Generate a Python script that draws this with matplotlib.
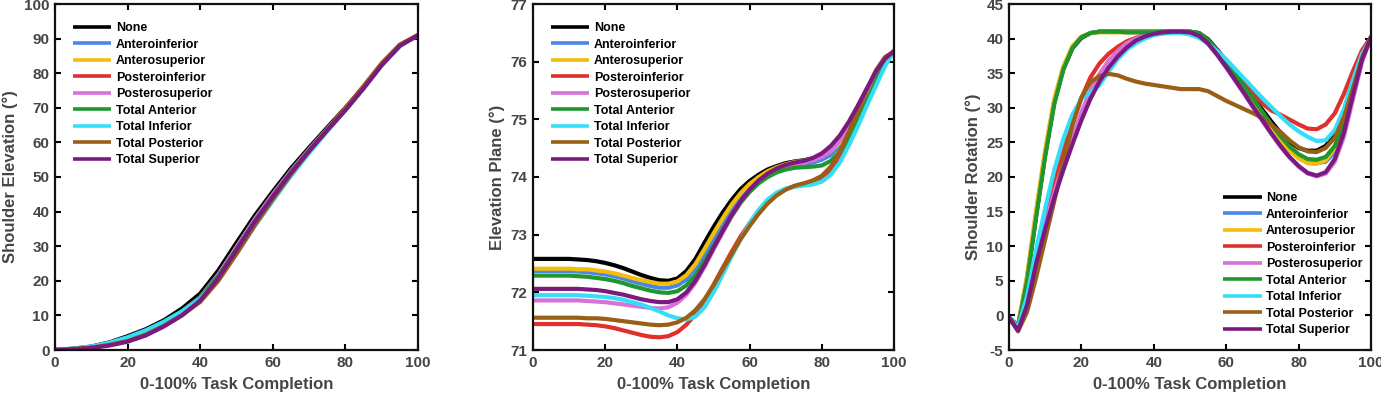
import matplotlib
matplotlib.use("Agg")
import matplotlib.pyplot as plt
import numpy as np

plt.rcParams['font.family'] = ['Liberation Sans', 'DejaVu Sans']
plt.rcParams['font.weight'] = 'bold'
plt.rcParams['axes.unicode_minus'] = False

series_names = ["None", "Anteroinferior", "Anterosuperior", "Posteroinferior",
                "Posterosuperior", "Total Anterior", "Total Inferior",
                "Total Posterior", "Total Superior"]
series_colors = ["#000000", "#4a86e8", "#f4bd0b", "#e0302c", "#d672d8",
                 "#1f962f", "#35def7", "#9a5f16", "#7b1a7e"]

# ---- Panel 1: Shoulder Elevation (x every 5 %) ----
x_elev = list(range(0, 101, 5))
elev_none = [0, 0.4, 1.0, 2.2, 4.0, 6.0, 8.6, 12.0, 16.3, 23.0, 31.0, 38.8, 45.8, 52.5, 58.5, 64.3, 70.0, 76.0, 82.5, 88.0, 91.0]
elev_antinf = [0, 0.3, 0.9, 1.9, 3.4, 5.4, 8.0, 11.2, 15.3, 21.8, 29.6, 37.5, 44.6, 51.5, 57.8, 63.8, 69.6, 75.8, 82.5, 88.0, 91.0]
elev_antsup = [0, 0.3, 0.8, 1.8, 3.2, 5.2, 7.8, 11.0, 15.0, 21.3, 29.0, 37.0, 44.2, 51.2, 57.6, 63.6, 69.6, 75.9, 82.6, 88.1, 91.0]
elev_postinf = [0, 0.3, 0.7, 1.5, 2.7, 4.6, 7.2, 10.4, 14.3, 20.4, 28.0, 36.0, 43.4, 50.6, 57.2, 63.4, 69.4, 75.7, 82.4, 88.0, 91.0]
elev_postsup = [0, 0.3, 0.8, 1.7, 3.0, 5.0, 7.7, 11.0, 15.2, 21.8, 29.8, 37.8, 45.0, 51.8, 58.0, 63.9, 69.7, 75.8, 82.4, 88.0, 91.0]
elev_totant = [0, 0.3, 0.8, 1.8, 3.2, 5.2, 7.8, 11.1, 15.1, 21.4, 29.2, 37.2, 44.4, 51.4, 57.7, 63.7, 69.6, 75.8, 82.5, 88.0, 91.0]
elev_totinf = [0, 0.4, 1.0, 2.1, 3.7, 5.7, 8.2, 11.2, 14.8, 20.5, 27.8, 35.8, 43.1, 50.3, 56.9, 63.2, 69.3, 75.6, 82.3, 87.9, 91.0]
elev_totpost = [0, 0.3, 0.7, 1.5, 2.6, 4.4, 7.0, 10.1, 13.9, 20.0, 27.8, 36.0, 43.6, 50.8, 57.5, 63.8, 69.9, 76.3, 82.9, 88.3, 91.0]
elev_totsup = [0, 0.2, 0.6, 1.3, 2.4, 4.2, 6.8, 10.0, 14.3, 20.8, 28.9, 37.0, 44.3, 51.2, 57.5, 63.5, 69.3, 75.6, 82.3, 87.9, 91.0]

# ---- Panel 2: Elevation Plane (x every 2.5 %) ----
x_plane = [i * 2.5 for i in range(41)]
plane_none = [72.58, 72.58, 72.58, 72.58, 72.58, 72.57, 72.56, 72.54, 72.51, 72.47, 72.42, 72.36, 72.30, 72.25, 72.21, 72.20, 72.24, 72.37, 72.58, 72.86, 73.13, 73.38, 73.60, 73.79, 73.93, 74.04, 74.13, 74.19, 74.24, 74.27, 74.29, 74.32, 74.37, 74.47, 74.63, 74.86, 75.14, 75.45, 75.76, 76.02, 76.18]
plane_antinf = [72.37, 72.37, 72.37, 72.37, 72.37, 72.36, 72.35, 72.33, 72.31, 72.28, 72.24, 72.19, 72.15, 72.11, 72.08, 72.08, 72.12, 72.22, 72.40, 72.65, 72.92, 73.19, 73.44, 73.66, 73.83, 73.96, 74.06, 74.13, 74.18, 74.21, 74.23, 74.25, 74.30, 74.38, 74.53, 74.75, 75.04, 75.37, 75.70, 75.99, 76.18]
plane_antsup = [72.41, 72.41, 72.41, 72.41, 72.41, 72.40, 72.40, 72.38, 72.36, 72.33, 72.29, 72.25, 72.21, 72.18, 72.15, 72.15, 72.19, 72.30, 72.49, 72.75, 73.02, 73.28, 73.52, 73.72, 73.88, 74.00, 74.10, 74.17, 74.22, 74.26, 74.28, 74.31, 74.36, 74.45, 74.60, 74.82, 75.10, 75.42, 75.74, 76.01, 76.18]
plane_postinf = [71.45, 71.45, 71.45, 71.45, 71.45, 71.45, 71.44, 71.43, 71.41, 71.38, 71.34, 71.30, 71.26, 71.23, 71.22, 71.24, 71.31, 71.44, 71.62, 71.86, 72.13, 72.42, 72.70, 72.97, 73.20, 73.41, 73.58, 73.70, 73.79, 73.84, 73.87, 73.90, 73.96, 74.09, 74.31, 74.62, 74.98, 75.36, 75.72, 76.02, 76.18]
plane_postsup = [71.86, 71.86, 71.86, 71.86, 71.86, 71.86, 71.85, 71.84, 71.83, 71.81, 71.79, 71.77, 71.75, 71.73, 71.72, 71.74, 71.82, 71.96, 72.17, 72.44, 72.74, 73.03, 73.31, 73.55, 73.75, 73.91, 74.03, 74.12, 74.18, 74.22, 74.25, 74.29, 74.35, 74.46, 74.63, 74.87, 75.16, 75.48, 75.79, 76.04, 76.18]
plane_totant = [72.29, 72.29, 72.29, 72.29, 72.29, 72.28, 72.27, 72.25, 72.23, 72.20, 72.16, 72.11, 72.07, 72.03, 72.00, 71.99, 72.02, 72.12, 72.29, 72.53, 72.80, 73.07, 73.33, 73.56, 73.74, 73.89, 74.00, 74.08, 74.13, 74.16, 74.17, 74.18, 74.20, 74.28, 74.43, 74.66, 74.96, 75.31, 75.66, 75.97, 76.18]
plane_totinf = [71.95, 71.95, 71.95, 71.95, 71.95, 71.95, 71.94, 71.93, 71.92, 71.90, 71.87, 71.83, 71.79, 71.73, 71.67, 71.60, 71.55, 71.53, 71.58, 71.74, 72.00, 72.30, 72.62, 72.92, 73.20, 73.43, 73.61, 73.73, 73.80, 73.83, 73.85, 73.87, 73.92, 74.04, 74.25, 74.55, 74.88, 75.24, 75.58, 75.92, 76.18]
plane_totpost = [71.56, 71.56, 71.56, 71.56, 71.56, 71.56, 71.55, 71.55, 71.54, 71.52, 71.50, 71.48, 71.46, 71.44, 71.43, 71.44, 71.48, 71.56, 71.69, 71.88, 72.12, 72.39, 72.66, 72.92, 73.15, 73.36, 73.54, 73.68, 73.78, 73.85, 73.89, 73.94, 74.02, 74.18, 74.44, 74.78, 75.15, 75.52, 75.85, 76.08, 76.18]
plane_totsup = [72.06, 72.06, 72.06, 72.06, 72.06, 72.06, 72.05, 72.04, 72.02, 71.99, 71.96, 71.92, 71.88, 71.85, 71.83, 71.83, 71.88, 72.00, 72.20, 72.47, 72.77, 73.06, 73.34, 73.58, 73.78, 73.94, 74.06, 74.15, 74.21, 74.25, 74.28, 74.33, 74.41, 74.54, 74.72, 74.96, 75.24, 75.54, 75.83, 76.05, 76.18]

# ---- Panel 3: Shoulder Rotation (x every 2.5 %) ----
x_rot = [i * 2.5 for i in range(41)]
rot_none = [-0.3, -1.5, 5.2, 14.5, 23.3, 30.8, 35.6, 38.6, 40.1, 40.8, 41.0, 41.0, 41.0, 41.0, 41.0, 41.0, 41.0, 41.0, 41.0, 41.0, 41.0, 40.8, 39.9, 38.4, 36.8, 35.1, 33.3, 31.5, 29.7, 28.0, 26.4, 25.1, 24.2, 23.8, 23.8, 24.5, 26.2, 29.5, 34.0, 38.0, 40.2]
rot_antinf = [-0.3, -1.5, 5.5, 14.8, 23.6, 31.0, 35.8, 38.8, 40.2, 40.8, 41.0, 41.0, 41.0, 41.0, 41.0, 41.0, 41.0, 41.0, 41.0, 41.0, 41.0, 40.7, 39.7, 38.2, 36.5, 34.7, 32.9, 31.0, 29.1, 27.3, 25.6, 24.1, 23.0, 22.3, 22.0, 22.2, 23.6, 27.0, 32.2, 37.0, 40.2]
rot_antsup = [-0.3, -1.5, 5.8, 15.2, 24.0, 31.3, 36.0, 38.9, 40.3, 40.8, 40.9, 40.9, 40.9, 40.9, 40.9, 40.9, 40.9, 40.9, 40.9, 40.9, 40.9, 40.6, 39.6, 38.0, 36.3, 34.5, 32.6, 30.7, 28.8, 27.0, 25.3, 23.8, 22.7, 22.0, 21.9, 22.4, 24.2, 27.8, 32.8, 37.4, 40.2]
rot_postinf = [-0.3, -2.0, 2.5, 9.0, 14.5, 19.3, 23.7, 27.8, 31.4, 34.4, 36.4, 37.8, 38.8, 39.6, 40.1, 40.5, 40.8, 40.9, 41.0, 40.9, 40.7, 40.3, 39.5, 38.3, 36.8, 35.2, 33.6, 32.0, 30.6, 29.6, 29.0, 28.3, 27.6, 27.0, 26.9, 27.6, 29.2, 32.0, 35.3, 38.3, 40.2]
rot_postsup = [-0.3, -2.1, 1.8, 8.0, 13.2, 17.8, 21.9, 25.8, 29.4, 32.5, 34.9, 36.8, 38.2, 39.3, 40.0, 40.5, 40.8, 40.9, 41.0, 41.0, 40.8, 40.3, 39.2, 37.6, 35.8, 33.9, 32.0, 30.0, 28.1, 26.2, 24.4, 22.8, 21.5, 20.5, 20.1, 20.5, 22.2, 25.8, 31.2, 36.6, 40.2]
rot_totant = [-0.3, -1.6, 5.0, 14.2, 23.0, 30.5, 35.5, 38.6, 40.2, 40.8, 41.0, 41.0, 41.0, 40.9, 40.9, 40.9, 40.9, 41.0, 41.0, 41.0, 41.0, 40.8, 39.8, 38.3, 36.6, 34.9, 33.1, 31.3, 29.4, 27.6, 25.9, 24.4, 23.3, 22.6, 22.5, 22.9, 24.5, 28.0, 33.0, 37.5, 40.2]
rot_totinf = [-0.3, -1.8, 2.8, 9.5, 15.5, 21.0, 25.5, 29.0, 31.3, 32.2, 33.3, 35.2, 37.0, 38.4, 39.3, 40.0, 40.5, 40.7, 40.8, 40.8, 40.6, 40.1, 39.3, 38.2, 37.0, 35.6, 34.2, 32.8, 31.4, 30.1, 28.8, 27.6, 26.6, 25.8, 25.2, 25.3, 26.8, 29.8, 34.0, 37.8, 40.0]
rot_totpost = [-0.3, -2.3, 0.5, 5.5, 11.0, 16.5, 22.0, 27.5, 31.5, 33.7, 34.6, 34.9, 34.7, 34.2, 33.8, 33.5, 33.3, 33.1, 32.9, 32.7, 32.7, 32.7, 32.4, 31.7, 31.0, 30.4, 29.8, 29.2, 28.5, 27.5, 26.5, 25.3, 24.3, 23.7, 23.6, 24.2, 25.7, 28.6, 32.8, 37.2, 40.2]
rot_totsup = [-0.3, -2.2, 1.5, 7.5, 12.5, 17.0, 21.0, 24.7, 28.2, 31.3, 33.8, 35.8, 37.4, 38.7, 39.7, 40.3, 40.7, 40.9, 41.0, 41.0, 40.9, 40.4, 39.3, 37.7, 35.9, 34.0, 32.1, 30.1, 28.2, 26.3, 24.5, 22.9, 21.6, 20.6, 20.2, 20.7, 22.6, 26.4, 31.8, 36.9, 40.2]

x_ticks = [0, 20, 40, 60, 80, 100]
panels = [
    dict(x=x_elev, ys=[elev_none, elev_antinf, elev_antsup, elev_postinf, elev_postsup,
                      elev_totant, elev_totinf, elev_totpost, elev_totsup],
         ylim=(0, 100), yticks=list(range(0, 101, 10)), ylabel="Shoulder Elevation (°)",
         rect=[55/1381, 44/394, 363/1381, 346/394], leg='upper left'),
    dict(x=x_plane, ys=[plane_none, plane_antinf, plane_antsup, plane_postinf, plane_postsup,
                       plane_totant, plane_totinf, plane_totpost, plane_totsup],
         ylim=(71, 77), yticks=list(range(71, 78)), ylabel="Elevation Plane (°)",
         rect=[533/1381, 44/394, 361/1381, 346/394], leg='upper left'),
    dict(x=x_rot, ys=[rot_none, rot_antinf, rot_antsup, rot_postinf, rot_postsup,
                     rot_totant, rot_totinf, rot_totpost, rot_totsup],
         ylim=(-5, 45), yticks=list(range(-5, 46, 5)), ylabel="Shoulder Rotation (°)",
         rect=[1009/1381, 44/394, 362/1381, 346/394], leg='lower right'),
]

fig = plt.figure(figsize=(13.81, 3.94), dpi=100)
label_color = "#454545"
leg_kw = dict(frameon=False, prop=dict(size=9, weight='bold'), handlelength=3.1,
              handletextpad=0.35, labelspacing=0.36, borderaxespad=0.0)
for p in panels:
    ax = fig.add_axes(p['rect'])
    for name, col, y in zip(series_names, series_colors, p['ys']):
        ax.plot(p['x'], y, color=col, lw=3.0, label=name, solid_capstyle='round',
                solid_joinstyle='round')
    ax.set_xlim(0, 100)
    ax.set_ylim(*p['ylim'])
    ax.set_xticks(x_ticks)
    ax.set_yticks(p['yticks'])
    ax.tick_params(direction='in', top=True, right=True, length=4, width=1.5,
                   labelsize=11, labelcolor=label_color, pad=4)
    for lab in ax.get_xticklabels() + ax.get_yticklabels():
        lab.set_fontweight('bold')
    for s in ax.spines.values():
        s.set_linewidth(1.6)
        s.set_color('#111111')
    ax.set_xlabel("0-100% Task Completion", fontsize=12, fontweight='bold',
                  color=label_color, labelpad=5)
    ax.set_ylabel(p['ylabel'], fontsize=12, fontweight='bold', color=label_color, labelpad=4)
    if p['leg'] == 'upper left':
        leg = ax.legend(loc='upper left', bbox_to_anchor=(0.035, 0.962), **leg_kw)
    else:
        leg = ax.legend(loc='lower right', bbox_to_anchor=(0.99, 0.025), **leg_kw)
    for h in leg.get_lines():
        h.set_linewidth(2.6)
        h.set_solid_capstyle('butt')

fig.savefig("out.png", dpi=100)
